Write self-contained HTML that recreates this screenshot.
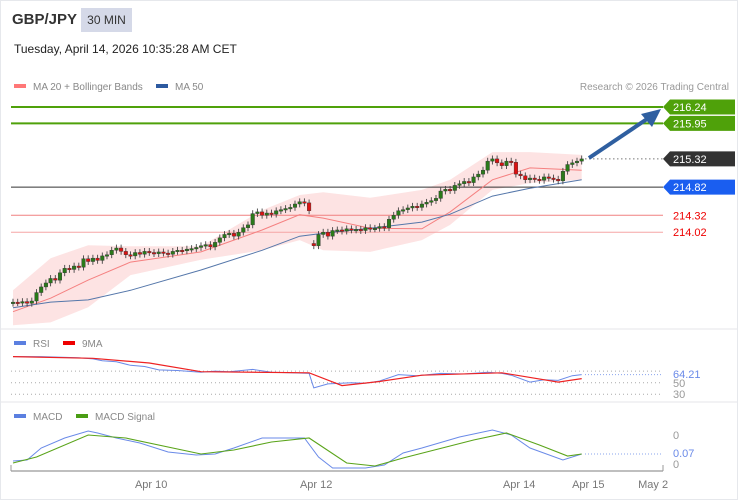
<!DOCTYPE html>
<html><head><meta charset="utf-8">
<style>
body{margin:0;background:#fff;font-family:"Liberation Sans",Arial,sans-serif;}
#wrap{position:relative;width:736px;height:498px;border:1px solid #e6e8ec;overflow:hidden;}
.t{position:absolute;white-space:nowrap;}
</style></head><body>
<div id="wrap">
<div class="t" style="left:11px;top:10px;font-size:15px;font-weight:bold;color:#333">GBP/JPY</div>
<div class="t" style="left:80px;top:7px;width:51px;height:24px;background:#d5d9e8;font-size:12px;color:#333;line-height:24px;text-align:center">30 MIN</div>
<div class="t" style="left:13px;top:41px;font-size:12px;color:#222">Tuesday, April 14, 2026 10:35:28 AM CET</div>
<svg id="svg" width="738" height="500" style="position:absolute;left:-1px;top:-1px"></svg>
</div>
<script>
// ---- data ----
const closes=[212.78,212.77,212.79,212.76,212.80,212.95,213.05,213.12,213.20,213.17,
213.30,213.38,213.36,213.42,213.40,213.55,213.50,213.56,213.52,213.60,
213.62,213.70,213.74,213.68,213.62,213.60,213.66,213.63,213.68,213.66,
213.64,213.67,213.65,213.63,213.68,213.70,213.69,213.72,213.73,213.75,
213.78,213.80,213.76,213.84,213.92,213.98,214.00,213.95,214.02,214.10,
214.15,214.35,214.38,214.32,214.36,214.34,214.40,214.42,214.44,214.46,
214.52,214.56,214.54,214.40,213.78,213.98,214.02,213.95,214.05,214.06,
214.04,214.08,214.06,214.07,214.05,214.10,214.08,214.09,214.12,214.10,
214.25,214.32,214.40,214.42,214.45,214.48,214.46,214.52,214.55,214.58,
214.62,214.75,214.78,214.76,214.85,214.88,214.92,214.90,215.00,215.05,
215.12,215.28,215.32,215.25,215.20,215.28,215.26,215.05,215.02,214.95,
214.98,214.96,214.94,215.00,214.98,214.96,214.93,215.10,215.22,215.25,
215.28,215.32];
const bandIdx=[0,8,16,25,40,53,61,66,76,87,93,102,110,121];
const bbUpper=[212.99,213.56,213.79,213.77,213.77,214.41,214.68,214.73,214.63,214.77,214.95,215.44,215.44,215.39];
const bbLower=[212.37,212.42,212.69,213.26,213.53,213.70,213.88,213.70,213.67,213.88,214.15,214.77,214.89,214.95];
const ma20=[212.61,212.85,213.17,213.49,213.67,214.06,214.33,214.27,214.09,214.08,214.38,214.95,215.16,215.12];
const ma50=[212.68,212.78,212.82,212.99,213.35,213.70,213.95,214.00,214.09,214.20,214.34,214.66,214.80,214.95];
const levels=[216.24,215.95,215.32,214.82,214.32,214.02];
const rsiIdx=[0,6,14,17,19,22,25,28,31,35,40,43,46,51,55,59,63,64,67,72,75,78,82,86,91,96,101,104,106,110,113,116,119,121];
const rsiVal=[95,95,93,91,88,86,80,78,72,71,68,70,69,73,68,67,66,41,48,50,49,53,64,62,66,65,68,66,63,51,55,54,62,64];
const maRsiIdx=[0,17,29,40,63,70,78,87,104,116,121];
const maRsiVal=[95,92,84,69,67,45,52,63,67,51,57];
const macdIdx=[0,3,6,11,16,18,22,27,33,39,43,47,53,62,65,68,75,79,83,87,95,102,106,110,117,121];
const macdVal=[0.8,0.9,2.1,3.1,3.8,3.6,3.1,2.6,1.7,1.4,1.5,2.1,3.1,3.1,1.2,0.1,0.1,0.4,1.6,2.1,3.2,3.9,3.4,2.1,0.9,1.5];
const sigIdx=[0,5,16,24,40,47,55,63,71,77,83,98,105,112,118,121];
const sigVal=[0.6,1.2,3.4,3.1,1.5,1.9,2.7,3.1,0.6,0.3,1.1,2.9,3.6,2.4,1.3,1.5];
const xTicks=["Apr 10","Apr 12","Apr 14","Apr 15","May 2"];
const xTickIdx=[29.4,64.5,107.7,122.4,136.2];

// ---- scales ----
const X=i=>13+i*4.7;
const Y=p=>107+(216.24-p)*56.4;
const RY=v=>394.3-(v-30)*0.58;
const MY=v=>469-v*10;
const NS="http://www.w3.org/2000/svg";
const svg=document.getElementById('svg');
function mk(tag,attrs,parent){const e=document.createElementNS(NS,tag);for(const k in attrs)e.setAttribute(k,attrs[k]);(parent||svg).appendChild(e);return e;}
function pts(idx,vals,fy){return idx.map((d,j)=>X(d).toFixed(1)+','+fy(vals[j]).toFixed(1)).join(' ');}

// bands
let band=mk('polygon',{points:pts(bandIdx,bbUpper,Y)+' '+pts(bandIdx.slice().reverse(),bbLower.slice().reverse(),Y),fill:'#fde3e3'});



// level lines
const lvlColors=['#4fa10a','#4fa10a',null,'#333','#f08080','#f5a5a5'];
levels.forEach((p,k)=>{
  if(k===2){let l=mk('line',{x1:585,x2:663,y1:Y(p),y2:Y(p),stroke:'#777','stroke-dasharray':'1.5,2.5'});
    
    return;}
  let l=mk('line',{x1:11,x2:663,y1:Y(p),y2:Y(p),stroke:k===3?'#333':lvlColors[k],'stroke-width':k<2?2:1});
  
  
});

// MAs
let m20=mk('polyline',{points:pts(bandIdx,ma20,Y),fill:'none',stroke:'#f58080','stroke-width':1});


let m50=mk('polyline',{points:pts(bandIdx,ma50,Y),fill:'none',stroke:'#5577aa','stroke-width':1});



// candles
closes.forEach((c,i)=>{
  let o=i?closes[i-1]:c-0.02;
  if(Math.abs(c-o)>0.3) o=c+0.04; // price gap
  const up=c>=o;const x=X(i);
  const hi=Math.max(o,c)+0.06, lo=Math.min(o,c)-0.06;
  let w=mk('line',{x1:x,x2:x,y1:Y(hi),y2:Y(lo),stroke:'#444','stroke-width':0.9});
  
  
  const top=Y(Math.max(o,c)),h=Math.max(1.5,Math.abs(Y(o)-Y(c)));
  let b=mk('rect',{x:x-1.8,y:top,width:3.6,height:h,fill:up?'#2a7a1a':'#d11',stroke:'#333','stroke-width':0.4});
  
  
});

// arrow
let ar=mk('line',{x1:589,y1:158,x2:650,y2:117,stroke:'#2f5fa0','stroke-width':4});


let ah=mk('polygon',{points:'661,109 641,114 652,127',fill:'#2f5fa0'});



// price tags
const tagCol=['#4fa10a','#4fa10a','#333','#1a5ef0'];
levels.forEach((p,k)=>{
  const y=Y(p);
  if(k<4){
    let g=mk('polygon',{points:`663,${y} 670,${y-7.5} 735,${y-7.5} 735,${y+7.5} 670,${y+7.5}`,fill:tagCol[k]});
    
    
  }
  let t=mk('text',{x:673,y:y+4,'font-size':11,fill:k<4?'#fff':'#e00','font-family':'Liberation Sans, sans-serif'});
  t.textContent=p.toFixed(2);
  
  
});

// separators
[329,402].forEach(y=>{let l=mk('line',{x1:0,x2:738,y1:y,y2:y,stroke:'#e4e6ea'});

});

// legends
function legend(x,y,color,label,name,fill){
  let r=mk('rect',{x:x,y:y-3,width:12,height:4,fill:color});
  
  
  let t=mk('text',{x:x+19,y:y+3,'font-size':10,fill:fill||'#888','font-family':'Liberation Sans, sans-serif'});
  t.textContent=label;
  
  
}
legend(14,87,'#f77','MA 20 + Bollinger Bands','ma20');
legend(156,87,'#2d5aa0','MA 50','ma50');
let cr=mk('text',{x:729,y:90,'font-size':10,fill:'#999','text-anchor':'end','font-family':'Liberation Sans, sans-serif'});
cr.textContent='Research © 2026 Trading Central';


legend(14,344,'#5b7fe0','RSI','rsi');
legend(63,344,'#e00','9MA','rsi-ma');
legend(14,417,'#5b7fe0','MACD','macd');
legend(76,417,'#4a9d14','MACD Signal','macd-signal');

// RSI pane
[70,50,30].forEach(v=>{let l=mk('line',{x1:11,x2:663,y1:RY(v),y2:RY(v),stroke:'#aaa','stroke-dasharray':'1,3'});

});
let rl=mk('polyline',{points:pts(rsiIdx,rsiVal,RY),fill:'none',stroke:'#6a8ae8','stroke-width':1});


let rm=mk('polyline',{points:pts(maRsiIdx,maRsiVal,RY),fill:'none',stroke:'#ee2222','stroke-width':1.2});


let rd=mk('line',{x1:585,x2:663,y1:RY(64),y2:RY(64),stroke:'#8aa4ee','stroke-dasharray':'1,2'});


[['50',387],['30',398]].forEach(a=>{let t=mk('text',{x:673,y:a[1],'font-size':11,fill:'#999','font-family':'Liberation Sans, sans-serif'});t.textContent=a[0];

});
let rv=mk('text',{x:673,y:378,'font-size':11,fill:'#6a8ae8','font-family':'Liberation Sans, sans-serif'});rv.textContent='64.21';



// MACD pane
let ml=mk('polyline',{points:pts(macdIdx,macdVal,MY),fill:'none',stroke:'#6a8ae8','stroke-width':1});


let sl=mk('polyline',{points:pts(sigIdx,sigVal,MY),fill:'none',stroke:'#5aa41a','stroke-width':1.1});


let md=mk('line',{x1:585,x2:663,y1:MY(1.5),y2:MY(1.5),stroke:'#8aa4ee','stroke-dasharray':'1,2'});


[['0',439],['0',468]].forEach(a=>{let t=mk('text',{x:673,y:a[1],'font-size':11,fill:'#999','font-family':'Liberation Sans, sans-serif'});t.textContent=a[0];

});
let mv=mk('text',{x:673,y:457,'font-size':11,fill:'#6a8ae8','font-family':'Liberation Sans, sans-serif'});mv.textContent='0.07';



// x axis
let ax=mk('line',{x1:11,x2:663,y1:471,y2:471,stroke:'#999','stroke-width':1.2});


[11,663].forEach(x=>{let t=mk('line',{x1:x,x2:x,y1:465,y2:471,stroke:'#999'});

});
xTicks.forEach((lab,k)=>{
  let t=mk('text',{x:X(xTickIdx[k]),y:488,'font-size':11,fill:'#777','text-anchor':'middle','font-family':'Liberation Sans, sans-serif'});
  t.textContent=lab;
  
  
});
</script>
</body></html>
